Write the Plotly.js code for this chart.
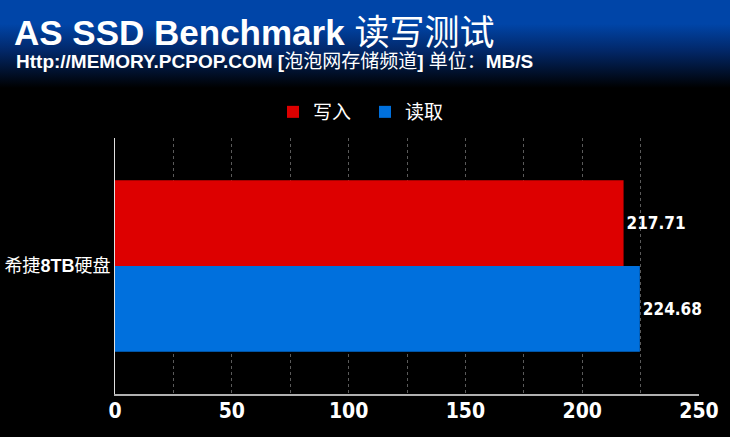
<!DOCTYPE html>
<html>
<head>
<meta charset="utf-8">
<script src="https://cdn.plot.ly/plotly-3.0.1.min.js"></script>
<style>
html,body{margin:0;padding:0;}
body{width:730px;height:437px;background:linear-gradient(to bottom,#0045a8 0px,#0045a8 24px,#02286a 50px,#000000 88px,#000000 437px);}
#chart{width:730px;height:437px;}
</style>
</head>
<body>
<div id="chart"></div>
<script>
const categories = ['希捷<b>8TB</b>硬盘'];
const seriesNames = ['写入', '读取'];
const writeValues = [217.71];
const readValues = [224.68];
const tickValues = [0, 50, 100, 150, 200, 250];
const tickLabels = ['0', '50', '100', '150', '200', '250'];

const narrow = '"DejaVu Sans Condensed", "Liberation Sans", Arial, "Noto Sans CJK SC", sans-serif';
const sans = '"Liberation Sans", Arial, "Noto Sans CJK SC", sans-serif';

const traces = [
  {
    type: 'bar', orientation: 'h', name: seriesNames[0],
    y: categories, x: writeValues,
    text: writeValues.map(v => v.toFixed(2)), textposition: 'outside',
    textfont: {family: narrow, size: 17, color: '#ffffff', weight: 'bold'},
    marker: {color: '#dd0000'}, cliponaxis: false, hoverinfo: 'none'
  },
  {
    type: 'bar', orientation: 'h', name: seriesNames[1],
    y: categories, x: readValues,
    text: readValues.map(v => v.toFixed(2)), textposition: 'outside',
    textfont: {family: narrow, size: 17, color: '#ffffff', weight: 'bold'},
    marker: {color: '#0070dd'}, cliponaxis: false, hoverinfo: 'none'
  }
];

const layout = {
  width: 730, height: 437,
  paper_bgcolor: 'rgba(0,0,0,0)', plot_bgcolor: 'rgba(0,0,0,0)',
  margin: {l: 115, r: 31, t: 138, b: 43, pad: 0, autoexpand: false},
  barmode: 'group', bargap: 0.33, bargroupgap: 0,
  showlegend: true,
  legend: {orientation: 'h', x: 0.5, xanchor: 'center', xref: 'container', y: 1 - 112/437, yref: 'container', yanchor: 'middle',
           font: {family: sans, size: 19, color: '#ffffff'}, entrywidth: 47, entrywidthmode: 'pixels',
           bgcolor: 'rgba(0,0,0,0)', traceorder: 'normal'},
  title: {text: 'AS SSD Benchmark <span style="font-weight:normal">读写测试</span>', x: 14/730, xanchor: 'left', xref: 'container', y: 1 - 33/437, yanchor: 'middle', yref: 'container',
          font: {family: sans, size: 35, color: '#ffffff', weight: 'bold'}},
  annotations: [{
    text: 'Http://MEMORY.PCPOP.COM [<span style="font-weight:normal">泡泡网存储频道</span>] <span style="font-weight:normal">单位：</span>MB/S',
    xref: 'paper', yref: 'paper', x: (14 - 115) / 584, y: (394 - 61) / 256,
    xanchor: 'left', yanchor: 'middle', showarrow: false,
    font: {family: sans, size: 19, color: '#ffffff', weight: 'bold'}
  }],
  xaxis: {
    range: [0, 250], tickmode: 'array', tickvals: tickValues, ticktext: tickLabels,
    showgrid: true, gridcolor: '#5a5a5a', griddash: 'dot', gridwidth: 1,
    minor: {dtick: 25, showgrid: true, gridcolor: '#5a5a5a', griddash: 'dot', gridwidth: 1},
    showline: true, linecolor: '#b0b0b0', linewidth: 2, zeroline: false,
    ticks: '', ticklabelstandoff: -3,
    tickfont: {family: narrow, size: 21, color: '#ffffff', weight: 'bold'},
    fixedrange: true
  },
  yaxis: {
    autorange: 'reversed', showline: true, linecolor: '#e0e0e0', linewidth: 1,
    showgrid: false, ticks: '', ticklabelstandoff: 0,
    tickfont: {family: sans, size: 18, color: '#ffffff'}, fixedrange: true
  }
};

Plotly.newPlot('chart', traces, layout, {staticPlot: true, displayModeBar: false});
</script>
</body>
</html>
